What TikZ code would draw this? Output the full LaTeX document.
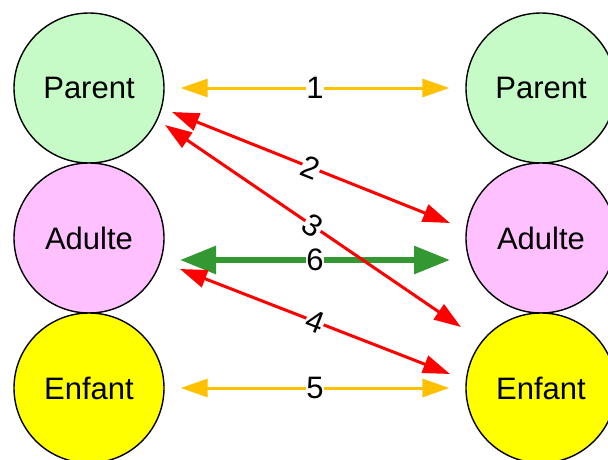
\documentclass[tikz,border=0pt]{standalone}
\usepackage{fontspec}
\setmainfont{Liberation Sans}
\usetikzlibrary{arrows.meta}
\definecolor{palegreen}{RGB}{198,250,198}
\definecolor{palepink}{RGB}{255,192,255}
\definecolor{brightyellow}{RGB}{255,255,0}
\definecolor{amber}{RGB}{255,192,0}
\definecolor{linkred}{RGB}{255,0,0}
\definecolor{linkgreen}{RGB}{52,152,50}
\tikzset{
  role/.style={circle, draw=black, line width=1.4pt, minimum size=150pt, inner sep=0pt,
    font=\fontsize{31}{31}\selectfont},
  link/.style={line width=3pt, {Triangle[length=27pt,width=18pt]}-{Triangle[length=27pt,width=18pt]}},
  biglink/.style={line width=6pt, {Triangle[length=36pt,width=27pt]}-{Triangle[length=36pt,width=27pt]}},
  num/.style={sloped, fill=white, inner sep=0.5pt, text=black, font=\fontsize{31}{31}\selectfont}
}
\begin{document}
\begin{tikzpicture}[x=1pt, y=-1pt]
  \clip (0,0) rectangle (608,459);
  \fill[white] (0,0) rectangle (608,459);
  % left column
  \node[role, fill=palegreen]    (pl) at (89,88)  {Parent};
  \node[role, fill=palepink]     (al) at (89,238) {Adulte};
  \node[role, fill=brightyellow] (el) at (89,388) {Enfant};
  % right column
  \node[role, fill=palegreen]    (pr) at (541,88)  {Parent};
  \node[role, fill=palepink]     (ar) at (541,238) {Adulte};
  \node[role, fill=brightyellow] (er) at (541,388) {Enfant};
  % connector end points
  \coordinate (p1a) at ([xshift=16pt]pl.east);
  \coordinate (p1b) at ([xshift=-16pt]pr.west);
  \coordinate (p2a) at (172,112);
  \coordinate (p2b) at (450,223);
  \coordinate (p3a) at (165,125);
  \coordinate (p3b) at (461,327);
  \coordinate (p4a) at (180,269);
  \coordinate (p4b) at (450,374);
  \coordinate (p5a) at ([xshift=16pt]el.east);
  \coordinate (p5b) at ([xshift=-16pt]er.west);
  \coordinate (p6a) at (180,260);
  \coordinate (p6b) at (450,260);
  % connectors
  \draw[link, amber] (p1a) -- node[num] {1} (p1b);
  \draw[link, amber] (p5a) -- node[num] {5} (p5b);
  \draw[link, linkred] (p2a) -- node[num] {2} (p2b);
  \draw[biglink, linkgreen] (p6a) -- node[num] {6} (p6b);
  \draw[link, linkred] (p3a) -- node[num] {3} (p3b);
  \draw[link, linkred] (p4a) -- node[num] {4} (p4b);
\end{tikzpicture}
\end{document}
